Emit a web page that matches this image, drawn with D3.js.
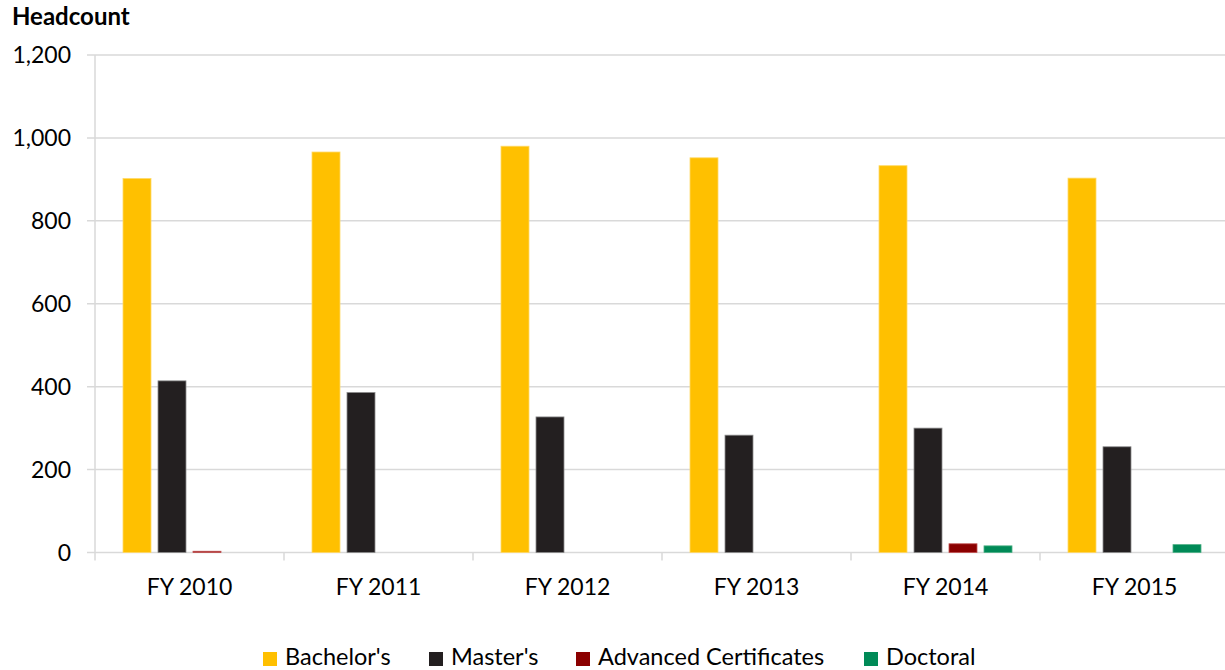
<!DOCTYPE html>
<html>
<head>
<meta charset="utf-8">
<script src="https://cdn.jsdelivr.net/npm/d3@7"></script>
<style>
  html, body { margin: 0; padding: 0; background: #fff; }
  svg { display: block; font-family: Lato, "Open Sans", sans-serif; }
</style>
</head>
<body>
<svg id="chart" width="1225" height="670"></svg>
<script>
const categories = ["FY 2010", "FY 2011", "FY 2012", "FY 2013", "FY 2014", "FY 2015"];
const seriesNames = ["Bachelor's", "Master's", "Advanced Certificates", "Doctoral"];
const bachelors = [902, 966, 980, 952, 933, 903];
const masters = [414, 386, 327, 283, 300, 255];
const advanced = [3, 0, 0, 0, 21, 0];
const doctoral = [0, 0, 0, 0, 16, 19];
const yTicks = [0, 200, 400, 600, 800, 1000, 1200];
const colors = ["#FFC000", "#231F20", "#8B0000", "#008A57"];
const strokes = ["#FFD966", "#8C8C8C", "#C05050", "#4DB085"];

const seriesValues = [bachelors, masters, advanced, doctoral];

(function () {
const svg = d3.select("#chart");
const plotLeft = 95, plotRight = 1229, plotTop = 55, plotBottom = 552.5;

const x0 = d3.scaleBand().domain(categories).range([plotLeft, plotRight]).paddingInner(0).paddingOuter(0);
const x1 = d3.scaleBand().domain(seriesNames).range([0, x0.bandwidth()]).paddingInner(0.2).paddingOuter(0.8);
const y = d3.scaleLinear().domain([0, 1200]).range([plotBottom, plotTop]);

// gridlines
svg.append("g").selectAll("line").data(yTicks).join("line")
  .attr("x1", plotLeft - 8).attr("x2", 1225)
  .attr("y1", d => y(d)).attr("y2", d => y(d))
  .attr("stroke", "#D9D9D9").attr("stroke-width", 1.5);

// y axis line
svg.append("line").attr("x1", plotLeft).attr("x2", plotLeft).attr("y1", y(1200)).attr("y2", y(0))
  .attr("stroke", "#D9D9D9").attr("stroke-width", 1.5);

// x ticks at category boundaries
const boundaries = categories.map(c => x0(c)).concat([x0(categories[categories.length - 1]) + x0.bandwidth()]);
svg.append("g").selectAll("line").data(boundaries).join("line")
  .attr("x1", d => d).attr("x2", d => d)
  .attr("y1", y(0)).attr("y2", y(0) + 8)
  .attr("stroke", "#D9D9D9").attr("stroke-width", 1.5);

// bars
seriesNames.forEach((s, si) => {
  svg.append("g").selectAll("rect").data(categories.map((c, i) => ({c, v: seriesValues[si][i]})).filter(d => d.v > 0))
    .join("rect")
    .attr("x", d => x0(d.c) + x1(s))
    .attr("width", x1.bandwidth())
    .attr("y", d => y(d.v))
    .attr("height", d => y(0) - y(d.v))
    .attr("fill", colors[si])
    .attr("stroke", strokes[si]).attr("stroke-width", 0.8);
});

// y tick labels
svg.append("g").selectAll("text").data(yTicks).join("text")
  .attr("x", 71).attr("y", d => y(d) + 8)
  .attr("text-anchor", "end")
  .attr("font-size", 23).attr("fill", "#000")
  .text(d => d3.format(",")(d));

// x labels
svg.append("g").selectAll("text").data(categories).join("text")
  .attr("x", d => x0(d) + x0.bandwidth() / 2).attr("y", 595)
  .attr("text-anchor", "middle")
  .attr("font-size", 23).attr("fill", "#000")
  .text(d => d);

// title
svg.append("text").attr("x", 12).attr("y", 25)
  .attr("font-size", 24).attr("font-weight", "bold").attr("fill", "#000")
  .text("Headcount");

// legend
const legendX = [263, 429, 576, 864];
const lg = svg.append("g").selectAll("g").data(seriesNames).join("g")
  .attr("transform", (d, i) => `translate(${legendX[i]},0)`);
lg.append("rect").attr("x", 0).attr("y", 652).attr("width", 14).attr("height", 14)
  .attr("fill", (d, i) => colors[i]);
lg.append("text").attr("x", 22).attr("y", 665)
  .attr("font-size", 23.5).attr("fill", "#000")
  .text(d => d);
})();
</script>
</body>
</html>
